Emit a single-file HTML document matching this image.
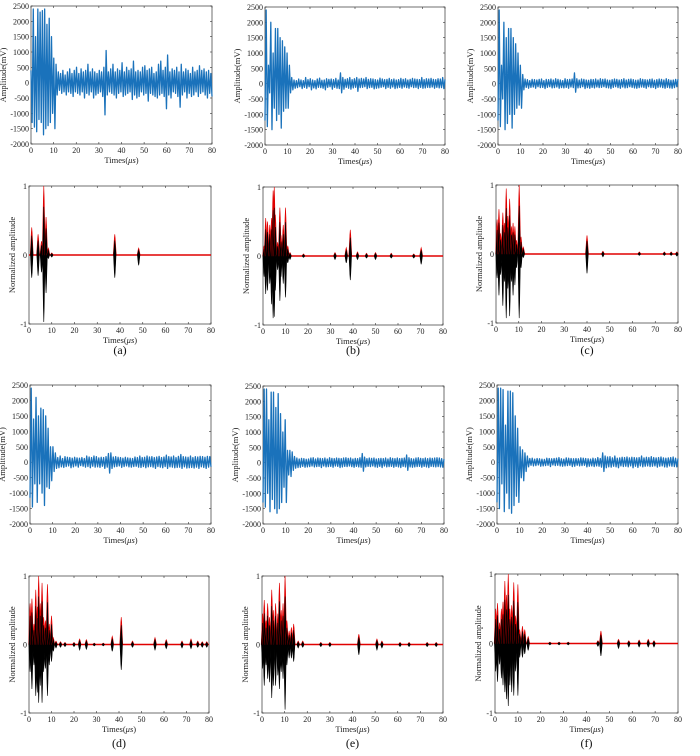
<!DOCTYPE html>
<html><head><meta charset="utf-8">
<style>
html,body{margin:0;padding:0;background:#fff;}
svg{display:block;font-family:"Liberation Serif","DejaVu Serif",serif;}
</style></head>
<body>
<svg id="fig" width="700" height="756" viewBox="0 0 700 756" xmlns="http://www.w3.org/2000/svg"></svg>
<script>
// ---- data: raw waveforms (mV), uniformly sampled over 0..80 us ----
const sigA=[400,-1300,2400,-1450,1500,-1600,2400,-1200,2300,-1300,2350,-1700,2400,-1500,1900,-1400,2100,-1300,1500,-1000,800,-1500,600,-400,350,-250,300,-350,400,-300,250,-400,350,-300,450,-350,300,-450,400,-300,500,-350,300,-400,450,-300,350,-500,400,-350,600,-400,350,-300,450,-500,350,-400,300,-350,400,-300,350,-450,500,-1050,1050,-400,350,-300,450,-350,600,-400,350,-500,450,-350,400,-300,650,-450,350,-400,500,-350,400,-300,450,-550,700,-400,350,-500,400,-450,350,-300,500,-400,550,-350,400,-600,450,-350,500,-400,300,-450,350,-500,600,-400,700,-350,400,-450,500,-850,900,-400,350,-500,450,-300,400,-350,500,-450,350,-800,600,-400,350,-300,450,-500,400,-350,300,-450,500,-400,350,-300,400,-450,550,-350,400,-300,450,-400,350,-500,400,-350,300,-450];
const sigB=[-1200,2400,-1400,600,-300,2000,-1500,1000,-800,1800,-1200,1800,-1000,1500,-1450,1400,-900,1200,-800,1000,-800,600,-300,200,-200,120,-150,100,-130,150,-100,120,-160,100,-120,200,-150,130,-100,160,-200,120,-140,100,-170,150,-120,180,-130,110,-150,120,-200,160,-120,140,-100,150,-180,130,-120,170,-150,120,-160,350,-300,200,-180,140,-120,160,-150,200,-180,130,-140,160,-120,200,-250,150,-130,170,-120,150,-100,200,-160,140,-130,160,-120,150,-170,130,-150,120,-140,180,-120,150,-100,130,-160,140,-120,170,-150,130,-110,150,-160,120,-140,130,-120,170,-150,140,-110,160,-130,120,-150,140,-100,170,-130,150,-120,140,-160,130,-120,200,-150,130,-140,160,-120,150,-130,170,-110,140,-150,130,-120,160,-140,150,-130,200,-160,140];
const sigC=[-1200,2400,-1400,600,-500,2000,-1500,1500,-1300,1800,-1000,1800,-1450,1500,-1000,1300,-800,1000,-700,600,-800,300,-200,150,-120,130,-150,100,-120,140,-110,130,-150,120,-100,140,-130,150,-120,100,-160,140,-120,130,-100,150,-140,120,-130,160,-110,140,-150,120,-130,100,-140,160,-120,130,-150,140,-110,150,-130,350,-280,160,-140,120,-130,150,-100,140,-160,120,-130,110,-150,140,-120,130,-140,150,-110,120,-130,160,-120,140,-100,150,-130,120,-140,110,-160,130,-120,150,-100,140,-130,120,-150,130,-110,160,-140,120,-130,140,-100,150,-120,130,-140,110,-150,120,-130,160,-110,140,-120,130,-150,120,-100,140,-130,150,-120,110,-160,130,-120,150,-110,140,-130,120,-150,160,-120,130,-140,110,-150,120,-130,140,-100,150];
const sigD=[-1150,2400,-1450,1400,-700,2100,-1300,1500,-700,1750,-1000,1700,-1400,1500,-800,1100,-850,500,-600,500,-300,300,-200,150,-180,200,-150,120,-170,180,-140,160,-120,150,-180,130,-150,160,-120,140,-160,130,-110,150,-130,120,-160,200,-140,170,-180,150,-130,200,-160,180,-150,140,-170,160,-130,150,-200,180,-160,280,-350,300,-200,170,-150,180,-140,160,-120,150,-170,130,-140,160,-120,140,-150,130,-160,120,-140,170,-130,150,-160,200,-170,150,-140,160,-180,200,-150,170,-140,180,-160,150,-200,170,-140,190,-160,150,-180,170,-140,230,-200,180,-150,170,-160,200,-180,150,-170,190,-160,250,-200,180,-150,170,-190,160,-180,200,-170,150,-190,180,-160,170,-200,190,-150,180,-170,160,-200,190,-160,180,-150];
const sigE=[-1300,2400,-1450,2400,-1000,1400,-1600,2300,-1200,2300,-1500,1800,-1650,2250,-1500,1600,-1300,1000,-800,1400,-1300,400,-400,400,-450,350,-250,200,-180,150,-160,120,-150,140,-120,130,-150,110,-140,120,-130,150,-110,160,-140,120,-130,150,-120,140,-160,130,-110,150,-140,120,-130,160,-120,140,-150,130,-110,150,-120,140,-160,130,-140,150,-120,160,-130,140,-110,150,-130,120,-150,140,-120,130,-140,160,-150,300,-280,180,-140,130,-120,150,-130,140,-110,150,-140,120,-150,130,-120,140,-160,130,-110,150,-140,120,-130,160,-120,140,-150,130,-120,150,-140,130,-160,140,-120,150,-140,250,-250,160,-140,130,-150,120,-140,150,-130,160,-120,140,-150,130,-120,150,-140,130,-160,150,-120,140,-130,150,-140,160,-130,150,-140,130,-150,120];
const sigF=[-1300,2400,-1500,2400,-700,2350,-1600,1200,-1000,2300,-1500,2300,-1650,2250,-1400,1500,-1100,1100,-1300,500,-500,400,-600,300,-300,200,-150,120,-100,130,-120,100,-110,120,-90,110,-130,100,-120,90,-110,130,-100,120,-140,110,-90,120,-110,130,-100,150,-120,110,-130,100,-120,140,-110,130,-100,120,-140,110,-130,120,-100,110,-120,140,-110,130,-100,120,-150,110,-130,100,-120,130,-140,110,-120,150,-130,120,-160,300,-300,200,-180,170,-150,180,-160,140,-130,200,-150,130,-180,140,-120,160,-140,150,-130,170,-150,140,-120,160,-180,150,-130,140,-170,150,-120,200,-150,140,-130,160,-120,150,-140,180,-130,150,-120,140,-160,150,-130,170,-120,140,-150,130,-160,140,-120,150,-130,170,-140,130,-150,120];
// ---- data: normalized bursts (time us, positive envelope, negative peak) ----
const nTA=[1.2,4,5.5,6.5,7.5,8.5,10,37.7,48.2];
const nPA=[0.4,0.3,0.2,1.0,0.55,0.1,0.03,0.3,0.1];
const nNA=[-0.33,-0.3,-0.25,-0.97,-0.55,-0.05,-0.03,-0.33,-0.15];
const nTB=[0.5,1.2,2,3,3.8,4.5,5,5.5,6.5,7.5,8,9,10,11,12,18,32,37,38.8,42,46,50,57,67,70.3];
const nPB=[0.15,0.55,0.5,0.45,0.55,0.95,1.0,0.6,0.2,0.7,0.3,0.45,0.7,0.15,0.05,0.03,0.05,0.12,0.38,0.06,0.04,0.05,0.04,0.03,0.12];
const nNB=[-0.3,-0.55,-0.5,-0.4,-0.7,-0.9,-0.88,-0.5,-0.2,-0.65,-0.3,-0.4,-0.6,-0.1,-0.05,-0.02,-0.05,-0.1,-0.35,-0.05,-0.03,-0.05,-0.03,-0.03,-0.12];
const nTC=[0.5,1.3,2,3,3.7,4.5,5.2,6,6.8,7.5,8.3,9,10.2,11,12,40,47,63,74,77,79.5];
const nPC=[0.5,0.65,0.3,0.6,0.45,0.95,0.55,0.8,0.4,0.45,0.4,0.2,1.0,0.25,0.1,0.27,0.04,0.03,0.03,0.03,0.03];
const nNC=[-0.35,-0.6,-0.3,-0.75,-0.4,-0.93,-0.5,-0.9,-0.4,-0.6,-0.45,-0.2,-0.93,-0.2,-0.05,-0.28,-0.04,-0.02,-0.02,-0.02,-0.03];
const nTD=[0.5,1.3,2.2,3,3.7,4.3,5,5.8,6.5,7.3,8.2,9,10,10.8,12,14,16,20,22.5,25.5,29,33,37,41,46,56,61,68,72,75,77,79];
const nPD=[0.6,0.67,0.3,0.8,0.55,1.0,0.6,0.9,0.4,0.35,0.88,0.3,0.42,0.1,0.05,0.04,0.03,0.03,0.08,0.07,0.02,0.02,0.12,0.4,0.05,0.1,0.07,0.05,0.08,0.05,0.04,0.04];
const nND=[-0.4,-0.65,-0.3,-0.75,-0.7,-0.85,-0.6,-0.85,-0.4,-0.35,-0.75,-0.3,-0.25,-0.1,-0.05,-0.04,-0.03,-0.03,-0.08,-0.07,-0.02,-0.02,-0.1,-0.37,-0.04,-0.08,-0.06,-0.05,-0.06,-0.04,-0.04,-0.04];
const nTE=[0.3,1,1.8,2.5,3.3,4.3,5,6,7,7.7,8.5,9.3,10.2,11,12,13,14,16,18,26,30,42.8,50.8,53,61,65,73,77];
const nPE=[0.45,0.65,0.35,0.6,0.4,0.8,0.5,0.6,0.45,0.9,0.5,0.6,1.0,0.35,0.2,0.25,0.3,0.05,0.05,0.03,0.03,0.15,0.08,0.05,0.03,0.03,0.03,0.03];
const nNE=[-0.35,-0.6,-0.3,-0.5,-0.55,-0.78,-0.6,-0.6,-0.45,-0.65,-0.4,-0.5,-0.95,-0.3,-0.2,-0.2,-0.25,-0.05,-0.04,-0.03,-0.03,-0.15,-0.08,-0.05,-0.03,-0.03,-0.03,-0.03];
const nTF=[0.3,1.1,2,2.8,3.5,4.3,5,5.8,6.5,7.3,8.2,9,10,10.8,12,13,14.5,24,28,32,45,46.3,54,58.5,63,67,69.5];
const nPF=[0.5,0.58,0.3,0.5,0.6,0.9,0.7,1.0,0.5,0.55,0.88,0.4,0.85,0.2,0.25,0.2,0.1,0.02,0.02,0.02,0.04,0.18,0.06,0.04,0.05,0.06,0.04];
const nNF=[-0.4,-0.55,-0.3,-0.5,-0.6,-0.7,-0.8,-0.9,-0.6,-0.7,-0.75,-0.4,-0.75,-0.2,-0.2,-0.15,-0.1,-0.02,-0.02,-0.02,-0.04,-0.18,-0.07,-0.05,-0.05,-0.05,-0.05];
const xTicks=[0,10,20,30,40,50,60,70,80];
const yTicksRaw=[2500,2000,1500,1000,500,0,-500,-1000,-1500,-2000];
const yTicksNorm=[1,0,-1];
const panelLetters=["a","b","c","d","e","f"];

const NS="http://www.w3.org/2000/svg";
const svg=document.getElementById('fig');
function mk(tag,attrs,parent){const e=document.createElementNS(NS,tag);for(const k in attrs)e.setAttribute(k,attrs[k]);(parent||svg).appendChild(e);return e;}

function axes(g,L,R,T,B,yMin,yMax,yTicks,ylabel,name){
  const sx=v=>L+(v/80)*(R-L);
  const sy=v=>B-(v-yMin)/(yMax-yMin)*(B-T);
  const box=mk('rect',{x:L,y:T,width:R-L,height:B-T,fill:'none',stroke:'#333','stroke-width':0.7},g);
  
  
  xTicks.forEach(t=>{
    const x=sx(t);
    mk('line',{x1:x,y1:B,x2:x,y2:B-2,stroke:'#333','stroke-width':0.6},g);
    mk('line',{x1:x,y1:T,x2:x,y2:T+2,stroke:'#333','stroke-width':0.6},g);
    const tx=mk('text',{x:x,y:B+9,'font-size':8,'text-anchor':'middle',fill:'#222'},g);
    tx.textContent=t;
    
    
  });
  yTicks.forEach(t=>{
    const y=sy(t);
    mk('line',{x1:L,y1:y,x2:L+2,y2:y,stroke:'#333','stroke-width':0.6},g);
    mk('line',{x1:R,y1:y,x2:R-2,y2:y,stroke:'#333','stroke-width':0.6},g);
    const tx=mk('text',{x:L-2,y:y+3,'font-size':8,'text-anchor':'end',fill:'#222'},g);
    tx.textContent=t;
    
    
  });
  const xl=mk('text',{x:(L+R)/2,y:B+19,'font-size':8.5,'text-anchor':'middle',fill:'#222'},g);
  xl.innerHTML='Times(<tspan font-style="italic">μs</tspan>)';
  
  
  const yoff=ylabel==='Amplitude(mV)'?L-25:L-14;
  const yl=mk('text',{x:0,y:0,'font-size':8.5,'text-anchor':'middle',fill:'#222',transform:`translate(${yoff},${(T+B)/2}) rotate(-90)`},g);
  yl.textContent=ylabel;
  
  
  return {sx,sy};
}

function rawPanel(L,R,T,B,sig,name){
  const g=mk('g',{});
  
  
  const {sx,sy}=axes(g,L,R,T,B,-2000,2500,yTicksRaw,'Amplitude(mV)',name);
  const n=sig.length;
  const pts=sig.map((v,i)=>sx(i*80/(n-1)).toFixed(2)+','+sy(Math.max(-2000,Math.min(2400,v))).toFixed(2)).join(' ');
  const pl=mk('polyline',{points:pts,fill:'none',stroke:'#1a72bb','stroke-width':1.3,'stroke-linejoin':'round'},g);
  
  
}

function normPanel(L,R,T,B,ts,ps,ns,name){
  const g=mk('g',{});
  
  
  const {sx,sy}=axes(g,L,R,T,B,-1,1,yTicksNorm,'Normalized amplitude',name);
  const base=mk('line',{x1:sx(0),y1:sy(0),x2:sx(80),y2:sy(0),stroke:'#e00000','stroke-width':1.4},g);
  
  
  const w=0.65;
  ts.forEach((t,i)=>{
    const red=mk('polygon',{points:`${sx(t-w)},${sy(0)} ${sx(t-w*0.3)},${sy(ps[i]*0.8)} ${sx(t)},${sy(ps[i])} ${sx(t+w*0.3)},${sy(ps[i]*0.8)} ${sx(t+w)},${sy(0)}`,fill:'#e00000',stroke:'#e00000','stroke-width':0.6},g);
    
    
    const blk=mk('polygon',{points:`${sx(t-w*0.85)},${sy(0)} ${sx(t)},${sy(ps[i]*0.7)} ${sx(t+w*0.85)},${sy(0)} ${sx(t+w*0.3)},${sy(ns[i]*0.75)} ${sx(t)},${sy(ns[i])} ${sx(t-w*0.3)},${sy(ns[i]*0.75)}`,fill:'#000',stroke:'#000','stroke-width':0.6},g);
    
    
  });
}

const raws=[sigA,sigB,sigC,sigD,sigE,sigF];
const norms=[[nTA,nPA,nNA],[nTB,nPB,nNB],[nTC,nPC,nNC],[nTD,nPD,nND],[nTE,nPE,nNE],[nTF,nPF,nNF]];
const rawBox=[[31,212,6,144],[265,445,7,145],[498,678,7,145],[30,211,385,524],[263,444,386,524],[497,678,385,524]];
const normBox=[[29,211,186,324],[263,443,187,325],[496,678,185,323],[29,209,576,713],[262,443,576,713],[495,678,574,713]];
const labelY=[354,354,354,747,747,747];
for(let k=0;k<6;k++){
  const r=rawBox[k],n=normBox[k];
  rawPanel(r[0],r[1],r[2],r[3],raws[k],'raw-panel-'+panelLetters[k]);
  normPanel(n[0],n[1],n[2],n[3],norms[k][0],norms[k][1],norms[k][2],'norm-panel-'+panelLetters[k]);
  const lb=mk('text',{x:(n[0]+n[1])/2,y:labelY[k],'font-size':12,'text-anchor':'middle',fill:'#111'});
  lb.textContent='('+panelLetters[k]+')';
  
  
}
</script>
</body></html>
